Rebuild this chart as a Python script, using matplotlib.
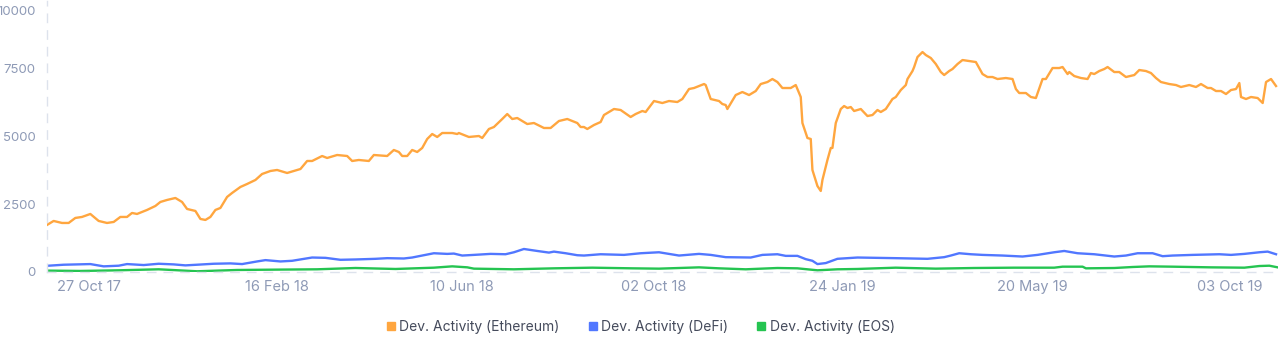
import matplotlib.pyplot as plt
from matplotlib.lines import Line2D
from matplotlib.transforms import offset_copy

# record index (x) and value
eth_x = [0, 4, 9, 13, 17, 21, 26, 31, 36, 40, 44, 48, 51, 54, 60, 65, 68, 72, 77, 81,
         84, 89, 92, 95, 98, 101, 104, 108, 111, 116, 120, 125, 129, 134, 138, 144, 152, 156, 159, 165,
         168, 174, 180, 183, 187, 193, 196, 204, 208, 211, 213, 216, 219, 222, 225, 228, 231, 234, 237, 243,
         246, 247, 253, 259, 261, 265, 268, 273, 276, 279, 282, 288, 292, 298, 302, 307, 312, 315, 318, 320,
         322, 324, 328, 332, 334, 340, 344, 350, 353, 357, 359, 364, 369, 373, 378, 381, 385, 388, 394, 395,
         398, 403, 405, 407, 408, 413, 417, 421, 425, 428, 432, 435, 438, 441, 446, 449, 452, 453, 456, 458,
         459, 462, 464, 465, 468, 470, 471, 473, 476, 478, 480, 482, 484, 488, 492, 495, 498, 500, 503, 507,
         509, 512, 515, 516, 519, 520, 522, 525, 527, 530, 533, 536, 538, 541, 543, 546, 549, 553, 557, 561,
         564, 567, 570, 575, 579, 581, 583, 587, 590, 593, 597, 599, 603, 607, 609, 612, 613, 616, 620, 624,
         626, 628, 631, 634, 636, 640, 643, 647, 652, 655, 659, 662, 665, 668, 673, 677, 680, 685, 689, 692,
         696, 698, 701, 704, 707, 710, 713, 715, 716, 719, 722, 726, 729, 731, 734, 737]
eth_y = [1734, 1882, 1808, 1808, 1993, 2030, 2140, 1882, 1808, 1845, 2030, 2030, 2177, 2140, 2288, 2435, 2583, 2657, 2730, 2583,
         2325, 2251, 1956, 1919, 2030, 2288, 2362, 2768, 2915, 3137, 3247, 3395, 3616, 3727, 3764, 3653, 3800, 4096, 4096, 4280,
         4207, 4317, 4280, 4096, 4133, 4096, 4317, 4280, 4502, 4428, 4280, 4280, 4502, 4428, 4576, 4908, 5092, 4982, 5129, 5129,
         5092, 5129, 4982, 5018, 4945, 5277, 5350, 5646, 5830, 5646, 5683, 5461, 5498, 5314, 5314, 5572, 5646, 5572, 5498, 5350,
         5350, 5277, 5424, 5535, 5793, 6015, 5978, 5720, 5830, 5941, 5904, 6310, 6236, 6310, 6273, 6384, 6753, 6790, 6937, 6900,
         6384, 6310, 6199, 6162, 6015, 6531, 6642, 6531, 6679, 6937, 7011, 7122, 7011, 6790, 6790, 6900, 6458, 5498, 4945, 4908,
         3764, 3173, 2989, 3395, 4133, 4576, 4576, 5498, 6015, 6125, 6052, 6088, 5941, 6015, 5756, 5793, 5978, 5904, 6015, 6384,
         6458, 6716, 6900, 7122, 7417, 7565, 7934, 8118, 8007, 7897, 7675, 7380, 7269, 7417, 7491, 7675, 7823, 7786, 7749, 7306,
         7196, 7196, 7122, 7159, 7122, 6753, 6605, 6605, 6458, 6420, 7122, 7122, 7528, 7528, 7565, 7306, 7380, 7232, 7159, 7122,
         7343, 7306, 7417, 7491, 7565, 7380, 7380, 7196, 7269, 7454, 7417, 7343, 7159, 7011, 6937, 6900, 6827, 6900, 6827, 6937,
         6790, 6790, 6679, 6679, 6568, 6716, 6753, 6974, 6458, 6384, 6458, 6420, 6236, 7011, 7122, 6864]

defi_x = [1, 10, 26, 34, 43, 48, 58, 67, 76, 83, 90, 100, 110, 117, 126, 131, 140, 147, 159, 167,
          176, 185, 197, 204, 214, 219, 223, 232, 240, 244, 249, 256, 266, 275, 280, 286, 294, 301, 304, 311,
          318, 322, 332, 346, 356, 367, 379, 391, 398, 407, 422, 429, 438, 443, 450, 455, 459, 462, 467, 474,
          486, 509, 528, 538, 542, 547, 554, 561, 573, 585, 594, 604, 610, 618, 628, 640, 647, 654, 663, 669,
          675, 687, 703, 710, 718, 727, 732, 737]
defi_y = [230, 266, 290, 206, 230, 290, 254, 302, 278, 242, 266, 302, 315, 290, 387, 436, 387, 411, 532, 520,
          448, 460, 484, 508, 496, 532, 581, 690, 666, 678, 605, 629, 666, 653, 726, 847, 774, 714, 750, 690,
          617, 605, 653, 629, 690, 726, 605, 666, 629, 545, 532, 629, 653, 593, 593, 472, 411, 290, 327, 484,
          532, 508, 484, 545, 605, 690, 653, 629, 605, 569, 629, 726, 774, 690, 653, 569, 605, 690, 690, 581,
          605, 629, 653, 629, 666, 726, 750, 653]

eos_x = [1, 20, 43, 67, 90, 114, 138, 162, 185, 209, 232, 243, 252, 256, 280, 304, 327, 351, 367, 391,
         403, 419, 438, 450, 462, 474, 486, 509, 533, 556, 580, 604, 609, 621, 623, 640, 651, 661, 675, 698,
         718, 727, 733, 738]
eos_y = [48, 36, 60, 97, 24, 72, 85, 97, 145, 109, 157, 206, 170, 121, 97, 133, 157, 133, 121, 169,
         133, 97, 145, 133, 60, 97, 109, 157, 121, 145, 157, 157, 194, 194, 133, 145, 182, 206, 194, 169,
         157, 218, 230, 169]

tick_pos = [25, 138, 249, 364, 477, 591, 709]
tick_labels = ['27 Oct 17', '16 Feb 18', '10 Jun 18', '02 Oct 18', '24 Jan 19', '20 May 19', '03 Oct 19']
y_ticks = [0, 2500, 5000, 7500, 10000]

c_eth = '#FFA63F'
c_defi = '#5177FF'
c_eos = '#25C451'
c_axis = '#8E9AB6'

plt.rcParams['font.family'] = ['Inter', 'DejaVu Sans']

fig = plt.figure(figsize=(12.8, 3.55), dpi=100)
ax = fig.add_axes([0.0367, 0.234, 0.9615, 0.763])

ax.plot(eth_x, eth_y, color=c_eth, lw=1.7, solid_joinstyle='round')
ax.plot(defi_x, defi_y, color=c_defi, lw=1.7, solid_joinstyle='round')
ax.plot(eos_x, eos_y, color=c_eos, lw=1.7, solid_joinstyle='round')

ax.set_xlim(0, 738)
ax.set_ylim(0, 10000)
ax.set_yticks(y_ticks)
ax.set_yticklabels([str(v) for v in y_ticks])
ax.set_xticks(tick_pos)
ax.set_xticklabels(tick_labels)
ax.tick_params(axis='x', length=0, colors=c_axis, labelsize=10.5, pad=6)
ax.tick_params(axis='y', length=0, colors=c_axis, labelsize=9.5, pad=8)

# top label sits a little below the top edge, as in the original
top_lab = ax.get_yticklabels()[-1]
top_lab.set_verticalalignment('top')
top_lab.set_transform(offset_copy(top_lab.get_transform(), fig=fig, y=-5, units='dots'))

for s in ['top', 'right']:
    ax.spines[s].set_visible(False)
for s in ['left', 'bottom']:
    ax.spines[s].set_color('#DDE2EC')
    ax.spines[s].set_linestyle((0, (6, 6)))
    ax.spines[s].set_linewidth(1)

handles = [Line2D([], [], marker='s', color='none', markerfacecolor=c, markeredgecolor=c, markersize=5.5)
           for c in (c_eth, c_defi, c_eos)]
leg = fig.legend(handles, ['Dev. Activity (Ethereum)', 'Dev. Activity (DeFi)', 'Dev. Activity (EOS)'],
                 loc='center', bbox_to_anchor=(0.5, 0.08), ncol=3, frameon=False,
                 fontsize=10, handletextpad=0.2, columnspacing=2.0, handlelength=0.8)
for t in leg.get_texts():
    t.set_color('#454B5C')

fig.savefig('out.png', dpi=100)
